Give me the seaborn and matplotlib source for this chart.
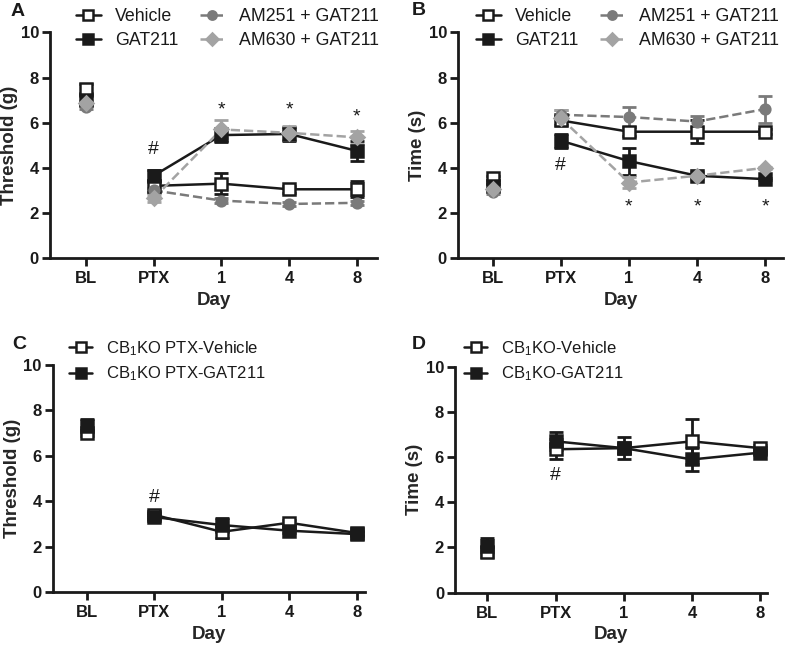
import numpy as np
import pandas as pd
import matplotlib
matplotlib.use("Agg")
import matplotlib.pyplot as plt
import seaborn as sns

sns.set_style("ticks")
plt.rcParams["font.family"] = ["Liberation Sans", "DejaVu Sans"]
plt.rcParams["mathtext.fontset"] = "custom"
plt.rcParams["mathtext.rm"] = "Liberation Sans"
plt.rcParams["mathtext.it"] = "Liberation Sans:italic"
plt.rcParams["mathtext.bf"] = "Liberation Sans:bold"

# x categories
days = ["BL", "PTX", "1", "4", "8"]

# Panel A - threshold (g)
a_vehicle = [7.5, 3.2, 3.3, 3.05, 3.05]
a_vehicle_err = [0.2, 0.25, 0.45, 0.15, 0.35]
a_gat211 = [7.0, 3.65, 5.45, 5.5, 4.75]
a_gat211_err = [0.2, 0.25, 0.3, 0.3, 0.45]
a_am251 = [6.7, 3.0, 2.55, 2.4, 2.45]
a_am251_err = [0.1, 0.1, 0.1, 0.1, 0.1]
a_am630 = [6.85, 2.65, 5.7, 5.55, 5.35]
a_am630_err = [0.1, 0.15, 0.4, 0.3, 0.3]

# Panel B - time (s)
b_vehicle = [3.55, 6.1, 5.6, 5.6, 5.6]
b_vehicle_err = [0.1, 0.2, 0.2, 0.5, 0.1]
b_gat211 = [3.2, 5.2, 4.3, 3.65, 3.5]
b_gat211_err = [0.1, 0.3, 0.6, 0.15, 0.05]
b_am251 = [2.95, 6.35, 6.25, 6.05, 6.6]
b_am251_err = [0.1, 0.2, 0.45, 0.25, 0.6]
b_am630 = [3.05, 6.2, 3.35, 3.65, 4.0]
b_am630_err = [0.1, 0.35, 0.25, 0.25, 0.05]

# Panel C - CB1KO threshold (g)
c_vehicle = [7.0, 3.4, 2.65, 3.05, 2.6]
c_vehicle_err = [0.15, 0.1, 0.25, 0.1, 0.1]
c_gat211 = [7.3, 3.3, 2.95, 2.7, 2.55]
c_gat211_err = [0.3, 0.1, 0.3, 0.1, 0.1]

# Panel D - CB1KO time (s)
d_vehicle = [1.8, 6.35, 6.4, 6.7, 6.4]
d_vehicle_err = [0.2, 0.45, 0.2, 1.0, 0.15]
d_gat211 = [2.05, 6.7, 6.4, 5.9, 6.2]
d_gat211_err = [0.35, 0.4, 0.5, 0.5, 0.1]

BLACK = "#1a1a1a"
DGREY = "#7a7a7a"
LGREY = "#a3a3a3"

styles = {
    "vehicle": dict(color=BLACK, marker="s", mfc="white", ls="-", ms=8),
    "gat211": dict(color=BLACK, marker="s", mfc=BLACK, ls="-", ms=8),
    "am251": dict(color=DGREY, marker="o", mfc=DGREY, ls="--", ms=7),
    "am630": dict(color=LGREY, marker="D", mfc=LGREY, ls="--", ms=7),
}


def draw_series(ax, vals, errs, key, label):
    st = styles[key]
    x = np.arange(len(days))
    df = pd.DataFrame({"x": x[1:], "y": vals[1:]})
    # error bars first so markers sit on top
    ax.errorbar(x, vals, yerr=errs, fmt="none", ecolor=st["color"],
                elinewidth=2, capsize=5, capthick=2, zorder=2)
    sns.lineplot(data=df, x="x", y="y", ax=ax, color=st["color"],
                 linestyle=st["ls"], linewidth=1.8, zorder=3, legend=False)
    ax.plot(x, vals, ls="none", marker=st["marker"], ms=st["ms"],
            mfc=st["mfc"], mec=st["color"], mew=1.8, zorder=4)
    # legend handle
    ax.plot([], [], color=st["color"], ls=st["ls"], lw=1.8,
            marker=st["marker"], ms=st["ms"] - 1, mfc=st["mfc"],
            mec=st["color"], mew=1.8, label=label)


def style_axes(ax, ylabel, xlim):
    ax.set_ylim(0, 10)
    ax.set_xlim(*xlim)
    ax.set_yticks([0, 2, 4, 6, 8, 10])
    ax.set_xticks(range(len(days)))
    ax.set_xticklabels(days)
    ax.set_ylabel(ylabel, fontsize=13.5, fontweight="bold", labelpad=2)
    ax.set_xlabel("Day", fontsize=13.5, fontweight="bold")
    for lab in ax.get_xticklabels() + ax.get_yticklabels():
        lab.set_fontweight("bold")
        lab.set_fontsize(12)
    sns.despine(ax=ax)
    for s in ["left", "bottom"]:
        ax.spines[s].set_linewidth(2)
        ax.spines[s].set_color(BLACK)
    ax.tick_params(width=2, length=6, color=BLACK, labelcolor=BLACK)
    ax.tick_params(axis="y", pad=2)


fig = plt.figure(figsize=(8, 6.47), dpi=100)
axA = fig.add_axes([0.0625, 0.601, 0.409, 0.349])
axB = fig.add_axes([0.5725, 0.601, 0.406, 0.349])
axC = fig.add_axes([0.066, 0.085, 0.39, 0.351])
axD = fig.add_axes([0.569, 0.084, 0.39, 0.349])

# A
draw_series(axA, a_vehicle, a_vehicle_err, "vehicle", "Vehicle")
draw_series(axA, a_gat211, a_gat211_err, "gat211", "GAT211")
draw_series(axA, a_am251, a_am251_err, "am251", "AM251 + GAT211")
draw_series(axA, a_am630, a_am630_err, "am630", "AM630 + GAT211")
style_axes(axA, "Threshold (g)", (-0.53, 4.3))
axA.text(1, 4.8, "#", ha="center", va="center", fontsize=14, color=BLACK)
for xi, yi in [(2, 6.55), (3, 6.55), (4, 6.25)]:
    axA.text(xi, yi, "*", ha="center", va="center", fontsize=14, color=BLACK)

# B
draw_series(axB, b_vehicle, b_vehicle_err, "vehicle", "Vehicle")
draw_series(axB, b_gat211, b_gat211_err, "gat211", "GAT211")
draw_series(axB, b_am251, b_am251_err, "am251", "AM251 + GAT211")
draw_series(axB, b_am630, b_am630_err, "am630", "AM630 + GAT211")
style_axes(axB, "Time (s)", (-0.51, 4.26))
axB.text(1, 4.1, "#", ha="center", va="center", fontsize=14, color=BLACK)
for xi in [2, 3, 4]:
    axB.text(xi, 2.25, "*", ha="center", va="center", fontsize=14, color=BLACK)

# C
draw_series(axC, c_vehicle, c_vehicle_err, "vehicle", "CB$_1$KO PTX-Vehicle")
draw_series(axC, c_gat211, c_gat211_err, "gat211", "CB$_1$KO PTX-GAT211")
style_axes(axC, "Threshold (g)", (-0.5, 4.12))
axC.text(1, 4.15, "#", ha="center", va="center", fontsize=14, color=BLACK)

# D
draw_series(axD, d_vehicle, d_vehicle_err, "vehicle", "CB$_1$KO-Vehicle")
draw_series(axD, d_gat211, d_gat211_err, "gat211", "CB$_1$KO-GAT211")
style_axes(axD, "Time (s)", (-0.47, 4.1))
axD.text(1, 5.2, "#", ha="center", va="center", fontsize=14, color=BLACK)

leg_kw = dict(frameon=False, handlelength=1.4, handletextpad=0.8,
              labelspacing=0.4, borderaxespad=0, borderpad=0, labelcolor=BLACK)
# legend anchors given in figure pixels (top-left)
W, H = 800, 647
fig.legend(*axA.get_legend_handles_labels(), loc="upper left",
           bbox_to_anchor=(76 / W, 1 - 8 / H), ncol=2, columnspacing=1.2,
           fontsize=12.8, **leg_kw)
fig.legend(*axB.get_legend_handles_labels(), loc="upper left",
           bbox_to_anchor=(476 / W, 1 - 8 / H), ncol=2, columnspacing=1.2,
           fontsize=12.8, **leg_kw)
fig.legend(*axC.get_legend_handles_labels(), loc="upper left",
           bbox_to_anchor=(69 / W, 1 - 339 / H), ncol=1,
           fontsize=12, **leg_kw)
fig.legend(*axD.get_legend_handles_labels(), loc="upper left",
           bbox_to_anchor=(464 / W, 1 - 339 / H), ncol=1,
           fontsize=12, **leg_kw)

for letter, (px, py) in [("A", (11, 3)), ("B", (412, 2)),
                         ("C", (12, 336)), ("D", (412, 336))]:
    fig.text(px / W, 1 - py / H, letter, fontsize=14, fontweight="bold",
             ha="left", va="top", color=BLACK)

fig.savefig("out.png", dpi=100)
